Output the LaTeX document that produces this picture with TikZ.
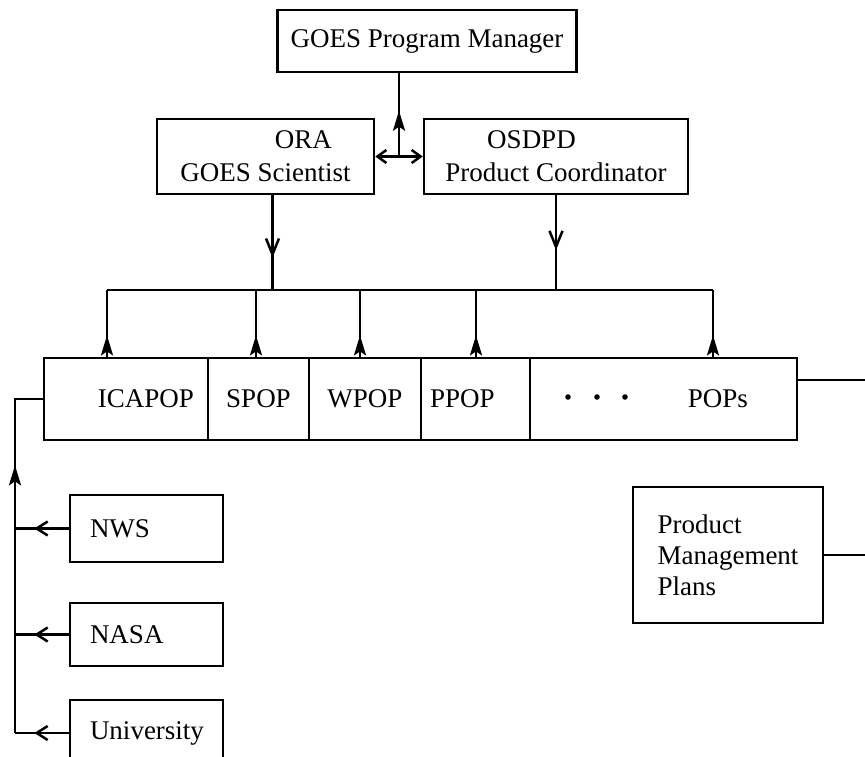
\documentclass[tikz,border=0pt]{standalone}
\usepackage{fontspec}
\setmainfont{Liberation Serif}
\usetikzlibrary{arrows.meta, positioning, calc, decorations.markings}
\tikzset{
  box/.style={draw, line width=2.5pt, inner sep=0pt, align=center},
  cell/.style={draw, line width=2.5pt, minimum height=82pt, inner sep=0pt},
  side/.style={draw, line width=2.5pt, minimum width=153pt, text width=113pt, inner xsep=20pt, inner ysep=0pt, align=left},
  conn/.style={line width=2.5pt},
  fillmid/.style={conn, postaction={decorate}, decoration={markings, mark=at position #1 with {\arrow{Stealth[length=20pt,width=12pt,inset=4pt]}}}},
  downmid/.style={conn, postaction={decorate}, decoration={markings, mark=at position #1 with {\arrow{Straight Barb[length=16pt,width=13pt]}}}},
  openmid/.style={conn, postaction={decorate}, decoration={markings, mark=at position #1 with {\arrow{Straight Barb[length=11pt,width=14pt]}}}},
  twoway/.style={conn, {Straight Barb[length=9pt,width=13pt]}-{Straight Barb[length=9pt,width=13pt]}}
}

\begin{document}
\begin{tikzpicture}[x=1pt, y=-1pt, font=\fontsize{27}{33}\selectfont]
  \clip (0,0) rectangle (865,757);

  % Management
  \node[box, minimum width=299pt, minimum height=62pt] (pm) at (427,41) {GOES Program Manager};
  \node[box, minimum width=217pt, minimum height=75pt, align=left] (ora) at (265.5,156.5) {\hspace*{3.5em}ORA\\GOES Scientist};
  \node[box, minimum width=264pt, minimum height=75pt, align=left] (osdpd) at (556,156.5) {\hspace*{1.55em}OSDPD\\Product Coordinator};

  % POP row
  \node[cell, minimum width=164pt, text width=136pt, inner xsep=14pt, align=right] (icapop) at (126,399) {ICAPOP};
  \node[cell, minimum width=101pt] (spop) at (258.5,399) {SPOP};
  \node[cell, minimum width=112pt] (wpop) at (365,399) {WPOP};
  \node[cell, minimum width=109pt, text width=91pt, inner xsep=9pt, align=left] (ppop) at (475.5,399) {PPOP};
  \node[cell, minimum width=267pt, text width=169pt, inner xsep=49pt, align=right] (pops) at (663.5,399) {POPs};
  \foreach \x in {568,597,625}
    \fill (\x,397) circle (2.8pt);

  % Plans and partners
  \node[box, minimum width=190pt, minimum height=136pt, align=left, font=\fontsize{27}{31}\selectfont] (pmp) at (728,555) {Product\\Management\\Plans};
  \node[side, minimum height=67pt] (nws) at (146.5,528.5) {NWS};
  \node[side, minimum height=63pt] (nasa) at (146.5,634.5) {NASA};
  \node[side, minimum height=66pt] (univ) at (146.5,733) {University};

  % Connectors
  \coordinate (bus) at (0,290);
  \coordinate (mid) at ($(ora.east)!0.5!(osdpd.west)$);
  \coordinate (fb) at (15,733);

  \draw[twoway] (ora.east) -- (osdpd.west);
  \draw[fillmid=0.55] (mid) -- (mid |- pm.south);
  \draw[downmid=0.66] ([xshift=7pt]ora.south) -- ([xshift=7pt]ora.south |- bus);
  \draw[downmid=0.58] (osdpd.south) -- (osdpd.south |- bus);

  \draw[conn] ([xshift=-19pt]icapop.north |- bus) -- ([xshift=49.5pt]pops.north |- bus);
  \foreach \n/\dx in {icapop/-19, spop/-2.5, wpop/-5, ppop/0.5, pops/49.5}
    \draw[fillmid=0.32] ([xshift=\dx pt]\n.north) -- ([xshift=\dx pt]\n.north |- bus);

  \draw[fillmid=0.74] (fb) -- (fb |- icapop.west) -- (icapop.west);
  \foreach \n in {nws, nasa, univ}
    \draw[openmid=0.64] (\n.west) -- (\n.west -| fb);

  \draw[conn] ([yshift=19pt]pops.east) -- ++(80,0);
  \draw[conn] (pmp.east) -- ++(60,0);
\end{tikzpicture}
\end{document}
